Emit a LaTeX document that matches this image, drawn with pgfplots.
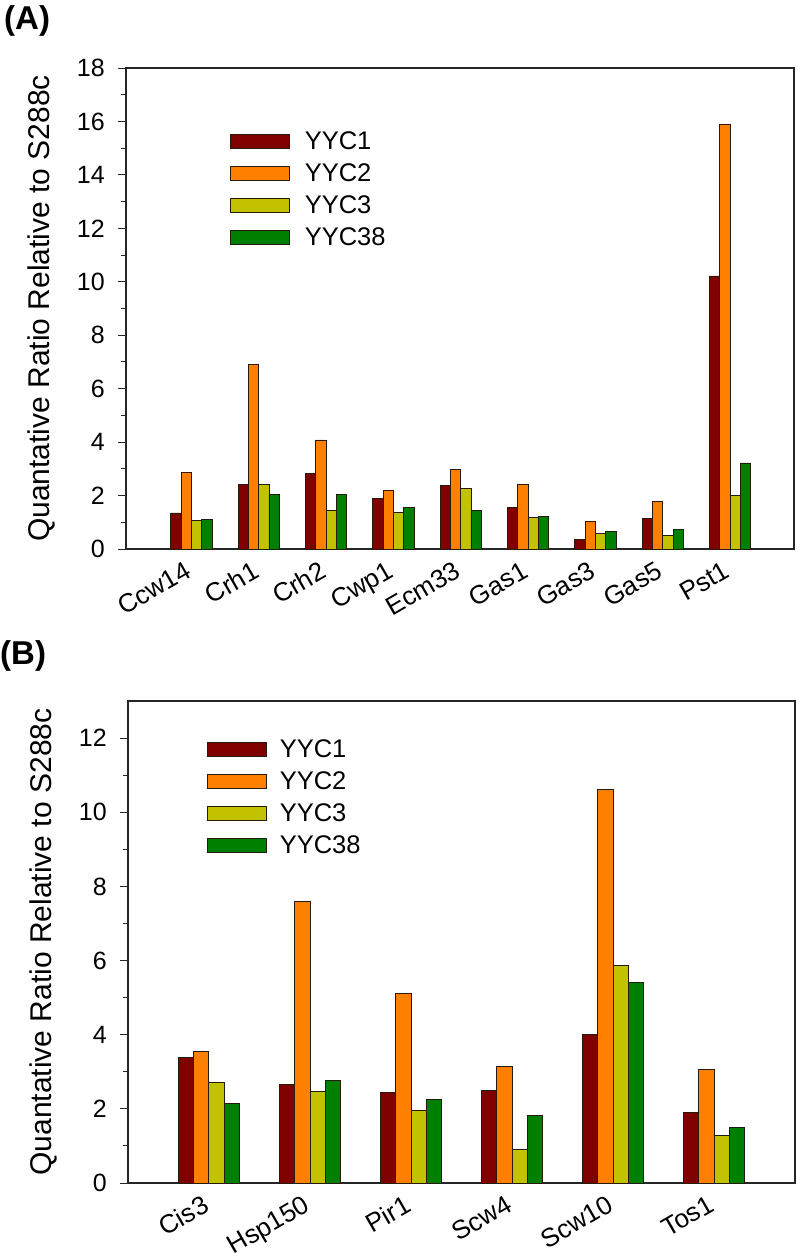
\documentclass[border=0pt]{standalone}
\usepackage{fontspec}
\setmainfont{Liberation Sans}
\usepackage{pgfplots}
\usepackage{pgfplotstable}
\pgfplotsset{compat=1.18}

\definecolor{cOne}{RGB}{128,0,0}
\definecolor{cTwo}{RGB}{255,128,0}
\definecolor{cThree}{RGB}{194,194,0}
\definecolor{cFour}{RGB}{0,128,0}

% panel A: Ccw14 Crh1 Crh2 Cwp1 Ecm33 Gas1 Gas3 Gas5 Pst1
\pgfplotstableread{
x YYC1  YYC2  YYC3 YYC38
0 1.35  2.86  1.06 1.11
1 2.41  6.89  2.43 2.04
2 2.82  4.08  1.43 2.04
3 1.88  2.18  1.38 1.57
4 2.39  2.97  2.26 1.45
5 1.55  2.43  1.18 1.23
6 0.37  1.03  0.57 0.67
7 1.16  1.77  0.52 0.72
8 10.22 15.90 2.00 3.22
}\dataA

% panel B: Cis3 Hsp150 Pir1 Scw4 Scw10 Tos1
\pgfplotstableread{
x YYC1 YYC2  YYC3 YYC38
0 3.38 3.56  2.72 2.14
1 2.67 7.60  2.46 2.76
2 2.44 5.11  1.96 2.25
3 2.49 3.15  0.90 1.83
4 4.00 10.62 5.86 5.41
5 1.91 3.06  1.29 1.51
}\dataB

\pgfplotsset{
  panel/.style={
    scale only axis,
    ybar=0pt,
    legend image code/.code={\draw[##1] (0bp,-7bp) rectangle (59bp,7bp);},
    ymin=0,
    enlargelimits=false,
    axis line style={line width=1.3bp, black!85},
    xtick={0,...,8},
    xtick style={draw=none},
    tick align=outside,
    ytick pos=left,
    major tick length=8bp,
    minor tick length=5bp,
    minor y tick num=1,
    every tick/.style={line width=1bp, black!85},
    /pgf/number format/assume math mode=true,
    yticklabel style={font=\fontsize{25bp}{29bp}\selectfont, inner sep=0pt, xshift=-13bp},
    xticklabel style={font=\fontsize{26bp}{30bp}\selectfont, rotate=30, anchor=north east, inner sep=0pt, xshift=-8bp, yshift=1bp},
    ylabel={Quantative Ratio Relative to S288c},
    ylabel style={font=\fontsize{30bp}{34bp}\selectfont, at={(axis description cs:-0.106,0.5)}, anchor=south, inner sep=0pt},
    every axis plot/.append style={draw=black!80!brown, line width=0.8bp},
    legend style={draw=none, fill=none, inner sep=0pt, outer sep=0pt,
      row sep=8bp, column sep=15bp,
      font=\fontsize{25.5bp}{30bp}\selectfont,
      nodes={inner sep=0pt, text height=20bp, text depth=4bp}},
    legend cell align=left,
  }
}

\begin{document}
\begin{tikzpicture}
\useasboundingbox (0,0) rectangle (797bp,-1253bp);
\node[anchor=west, inner sep=0pt, font=\fontsize{33bp}{38bp}\selectfont\bfseries] at (4bp,-21bp) {(A)};
\node[anchor=west, inner sep=0pt, font=\fontsize{33bp}{38bp}\selectfont\bfseries] at (0bp,-656bp) {(B)};

\begin{axis}[panel,
  at={(126bp,-549bp)}, anchor=south west,
  width=668bp, height=481bp,
  xmin=-0.97, xmax=8.95,
  ymax=18, ytick={0,2,...,18},
  bar width=0.153,
  xticklabels={Ccw14,Crh1,Crh2,Cwp1,Ecm33,Gas1,Gas3,Gas5,Pst1},
  legend style={at={(axis description cs:0.1557,0.7484)}, anchor=west},
]
\addplot[fill=cOne]   table[x=x,y=YYC1]{\dataA};
\addplot[fill=cTwo]   table[x=x,y=YYC2]{\dataA};
\addplot[fill=cThree] table[x=x,y=YYC3]{\dataA};
\addplot[fill=cFour]  table[x=x,y=YYC38]{\dataA};
\legend{YYC1,YYC2,YYC3,YYC38}
\end{axis}

\begin{axis}[panel,
  at={(128bp,-1183bp)}, anchor=south west,
  width=667bp, height=482bp,
  xmin=-0.8, xmax=5.8,
  ymax=13, ytick={0,2,...,12},
  bar width=0.151,
  xtick={0,...,5},
  xticklabels={Cis3,Hsp150,Pir1,Scw4,Scw10,Tos1},
  legend style={at={(axis description cs:0.1184,0.8008)}, anchor=west, column sep=13bp},
]
\addplot[fill=cOne]   table[x=x,y=YYC1]{\dataB};
\addplot[fill=cTwo]   table[x=x,y=YYC2]{\dataB};
\addplot[fill=cThree] table[x=x,y=YYC3]{\dataB};
\addplot[fill=cFour]  table[x=x,y=YYC38]{\dataB};
\legend{YYC1,YYC2,YYC3,YYC38}
\end{axis}
\end{tikzpicture}
\end{document}
